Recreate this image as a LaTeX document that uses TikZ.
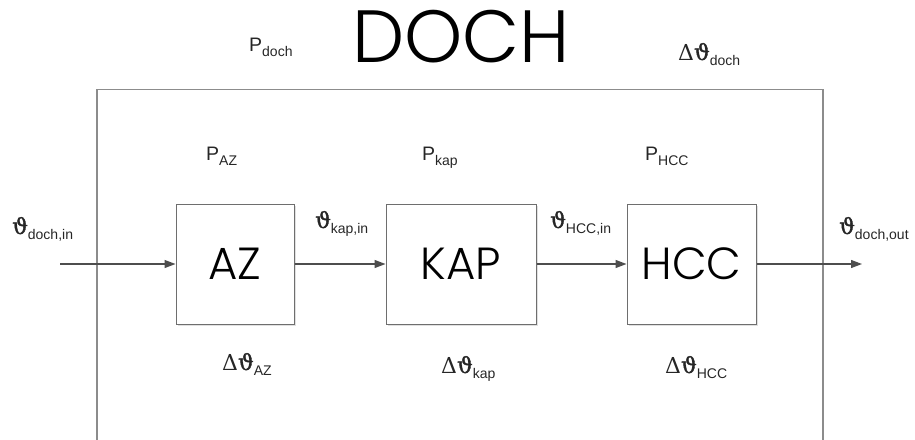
\documentclass[tikz,border=0pt]{standalone}
\usepackage{fontspec}
\setmainfont{Liberation Sans}
\newfontfamily\thinfont{Poppins Light}
\newfontfamily\symfont{DejaVu Serif}
\newfontfamily\thfont{DejaVu Serif}[FakeBold=1.6]
\usetikzlibrary{arrows.meta,shadows}
\definecolor{framegray}{HTML}{8C8C8C}
\definecolor{boxgray}{HTML}{6E6E6E}
\definecolor{arrowgray}{HTML}{4D4D4D}
\newcommand{\thsub}[1]{{\fontsize{22}{22}\selectfont\thfont ϑ}\raisebox{-5pt}{\fontsize{14}{14}\selectfont #1}}
\newcommand{\dthsub}[1]{{\fontsize{22}{22}\selectfont\symfont Δ\thfont ϑ}\raisebox{-5pt}{\fontsize{14}{14}\selectfont #1}}
\newcommand{\psub}[1]{{\fontsize{19.5}{19.5}\selectfont P}\raisebox{-5pt}{\fontsize{14}{14}\selectfont #1}}
\begin{document}
\begin{tikzpicture}[x=1pt,y=-1pt,
  lbl/.style={anchor=base west,inner sep=0pt,text=black!85},
  blockbox/.style={draw=boxgray,line width=1pt,fill=white,
    drop shadow={shadow xshift=1.5pt,shadow yshift=-1.5pt,fill=black!12,opacity=1},
    minimum height=120pt,inner sep=0pt,font=\thinfont\fontsize{45}{45}\selectfont},
  flow/.style={draw=arrowgray,line width=1.2pt,-{Triangle[length=11pt,width=8pt]}}]
\useasboundingbox (0,0) rectangle (915,439);
% outer frame (open at the bottom)
\draw[framegray,line width=1.5pt] (97,445) -- (97,89.5) -- (823,89.5) -- (823,445);
% title
\node[inner sep=0pt,font=\thinfont\fontsize{74}{74}\selectfont] (title) at (461,37) {DOCH};
\node[lbl] (pdoch) at (249,51) {\psub{doch}};
\node[lbl] (dtdoch) at (678,60) {\dthsub{doch}};
% blocks
\node[blockbox,minimum width=118pt] (az) at (235,264) {AZ};
\node[blockbox,minimum width=150pt] (kap) at (461,264) {KAP};
\node[blockbox,minimum width=129pt] (hcc) at (691.5,264) {HCC};
% powers
\node[lbl] (paz) at (206,160) {\psub{AZ}};
\node[lbl] (pkap) at (422,160) {\psub{kap}};
\node[lbl] (phcc) at (645,160) {\psub{HCC}};
% temperature differences
\node[lbl] (dtaz) at (222,370) {\dthsub{AZ}};
\node[lbl] (dtkap) at (441,373) {\dthsub{kap}};
\node[lbl] (dthcc) at (665,373) {\dthsub{HCC}};
% flow temperatures
\node[lbl] (tin) at (12,234) {\thsub{doch,in}};
\node[lbl] (tkap) at (315,228) {\thsub{kap,in}};
\node[lbl] (thcc) at (550,228) {\thsub{HCC,in}};
\node[lbl] (tout) at (839,234) {\thsub{doch,out}};
% connectors
\coordinate (src) at (60,264);
\coordinate (snk) at (862,264);
\draw[flow] (src) -- (az.west);
\draw[flow] (az.east) -- (kap.west);
\draw[flow] (kap.east) -- (hcc.west);
\draw[flow] (hcc.east) -- (snk);
\end{tikzpicture}
\end{document}
